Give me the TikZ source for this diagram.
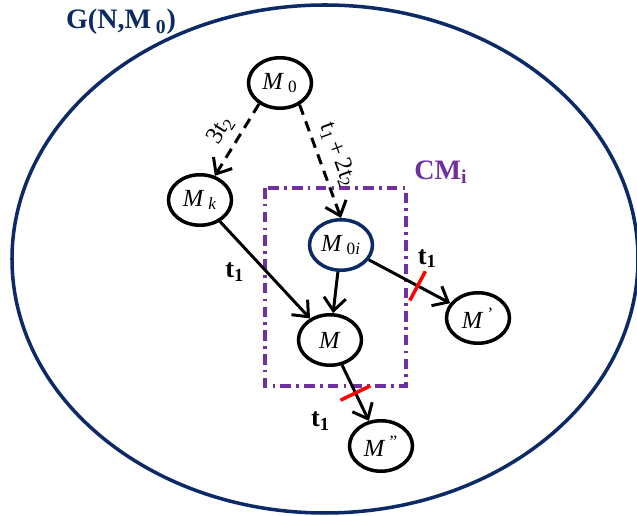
\documentclass[tikz,border=0pt]{standalone}
\usepackage{fontspec}
\setmainfont{Liberation Serif}
\usetikzlibrary{arrows.meta,calc,shapes.geometric}
\definecolor{marino}{HTML}{0B2A66}
\definecolor{morado}{HTML}{7030A0}
\definecolor{corte}{HTML}{FF0000}

\begin{document}
\begin{tikzpicture}[x=0.02cm,y=-0.02cm,
    every node/.style={font=\fontsize{14}{16}\selectfont},
    state/.style={draw,ellipse,line width=2pt,inner sep=0pt,minimum width=1.26cm,minimum height=1.01cm},
    fire/.style={line width=1.7pt,-{Straight Barb[length=2.6mm,width=4.4mm]}},
    lbl/.style={font=\fontsize{15}{17}\selectfont\bfseries},
    cut/.style={draw=corte,line width=2pt}
  ]
    \useasboundingbox (0,0) rectangle (637,516);
    \begin{scope}
      \clip (0,0) rectangle (637,516);
      \draw[marino,line width=2pt] (325,259) ellipse (313 and 254);
    \end{scope}
    \node[marino,font=\fontsize{16}{18}\selectfont\bfseries] (glabel) at (121,22) {G(N,M\,\textsubscript{0})};

    \draw[morado,line width=2pt,dash pattern=on 6pt off 3pt on 1.5pt off 3pt] (265,188) rectangle (406,386);
    \node[morado,font=\fontsize{16}{18}\selectfont\bfseries] (cmlabel) at (441,172) {CM\textsubscript{i}};

    \node[state] (m0) at (280,83) {\textit{M}\,\textsubscript{0}};
    \node[state] (mk) at (200,200) {\textit{M}\,\textsubscript{\textit{k}}};
    \node[state,draw=marino] (m0i) at (341,245) {\textit{M}\,\textsubscript{0\textit{i}}};
    \node[state] (m) at (330,340) {\textit{M}};
    \node[state] (mprime) at (478,318) {\textit{M}\,\textsuperscript{'}};
    \node[state] (mdprime) at (381,446) {\textit{M}\,\textsuperscript{''}};

    \draw[fire,dash pattern=on 6pt off 4pt] (m0.-135) -- (mk) node[midway,sloped,above=1pt] {3t\textsubscript{2}};
    \draw[fire,dash pattern=on 6pt off 4pt] (m0.-48) -- (m0i.north) node[midway,sloped,above=1pt] {t\textsubscript{1}\,+\,2t\textsubscript{2}};
    \draw[fire] (mk) -- (m) node[pos=.35,below left,lbl] {t\textsubscript{1}};
    \draw[fire] (m0i) -- (mprime) coordinate[pos=.6] (c1) node[pos=.72,above=9pt,lbl] {t\textsubscript{1}};
    \draw[fire] (m0i) -- (m);
    \draw[fire] (m) -- (mdprime) coordinate[pos=.5] (c2) node[pos=1,left=18pt,lbl] {t\textsubscript{1}};
    \draw[cut] ($(c1)!0.33cm!90:(mprime)$) -- ($(c1)!0.33cm!-90:(mprime)$);
    \draw[cut] ($(c2)!0.33cm!90:(mdprime)$) -- ($(c2)!0.33cm!-90:(mdprime)$);
  \end{tikzpicture}
\end{document}
